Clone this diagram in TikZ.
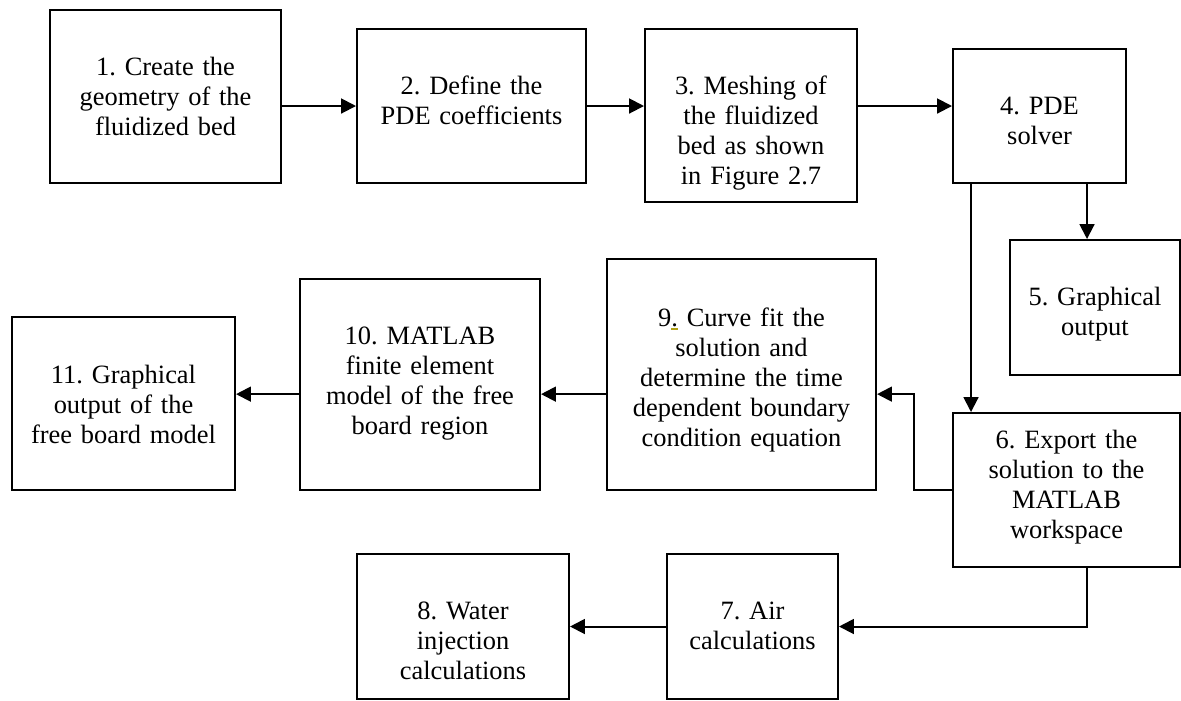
\documentclass[tikz,border=0pt]{standalone}
\usepackage{fontspec}
\setmainfont{Liberation Serif}
\usetikzlibrary{arrows.meta,positioning}
\definecolor{markolive}{RGB}{176,160,20}
\tikzset{
  stage/.style={draw,line width=1.4pt,inner sep=0pt,align=center,
    anchor=north west,text height=1.625cm,
    font=\fontsize{18.8pt}{21.4pt}\selectfont\frenchspacing}
}

\begin{document}
\begin{tikzpicture}[>={Triangle[length=0.37cm,width=0.37cm]},line width=1.4pt,
  x=0.025cm,y=-0.025cm]
\useasboundingbox (0,0) rectangle (1181,700);
% top row
\node[stage,text width=5.775cm,text depth=2.7cm] (create) at (49,9)
 {1. Create the\\geometry of the\\fluidized bed};
\node[stage,text width=5.725cm,text depth=2.225cm] (define) at (356,28)
 {2. Define the\\PDE coefficients};
\node[stage,text width=5.3cm,text depth=2.7cm] (mesh) at (644,28)
 {3. Meshing of\\the fluidized\\bed as shown\\in Figure 2.7};
\node[stage,text width=4.325cm,text depth=1.725cm] (solver) at (952,48)
 {4. PDE\\solver};
\node[stage,text width=4.25cm,text depth=1.75cm] (graph) at (1009,239)
 {5. Graphical\\output};
% middle row
\node[stage,text width=5.675cm,text height=0.875cm,text depth=2.975cm] (export) at (952,412)
 {6. Export the\\solution to the\\MATLAB\\workspace};
\node[stage,text width=6.725cm,text height=1.675cm,text depth=4.1cm] (curve) at (606,258)
 {9\rlap{\color{markolive}\rule[-2.5pt]{0.25em}{0.8pt}}. Curve fit the\\solution and\\determine the time\\dependent boundary\\condition equation};
\node[stage,text width=6cm,text depth=3.65cm] (fem) at (299,278)
 {10. MATLAB\\finite element\\model of the free\\board region};
\node[stage,text width=5.575cm,text height=1.65cm,text depth=2.675cm] (freeout) at (11,316)
 {11. Graphical\\output of the\\free board model};
% bottom row
\node[stage,text width=4.275cm,text depth=2cm] (air) at (666,553)
 {7. Air\\calculations};
\node[stage,text width=5.3cm,text depth=2cm] (water) at (356,553)
 {8. Water\\injection\\calculations};
% helper points
\coordinate (drop) at ([xshift=-0.2cm]graph.north);
\coordinate (row) at ([yshift=-0.49cm]curve.east);
% connectors
\draw[->] (create.east |- define.west) -- (define.west);
\draw[->] (define.east) -- (define.east -| mesh.west);
\draw[->] (mesh.east |- define.east) -- (solver.west |- define.east);
\draw[->] (drop |- solver.south) -- (drop);
\draw[->] ([xshift=0.475cm]solver.south west) -- ([xshift=0.475cm]export.north west);
\draw[->] (export.west) -- ++(-0.95cm,0) |- (row);
\draw[->] (curve.west |- row) -- (fem.east |- row);
\draw[->] (fem.west |- row) -- (freeout.east |- row);
\draw[->] (drop |- export.south) |- (air.east);
\draw[->] (air.west) -- (water.east);
\end{tikzpicture}
\end{document}
